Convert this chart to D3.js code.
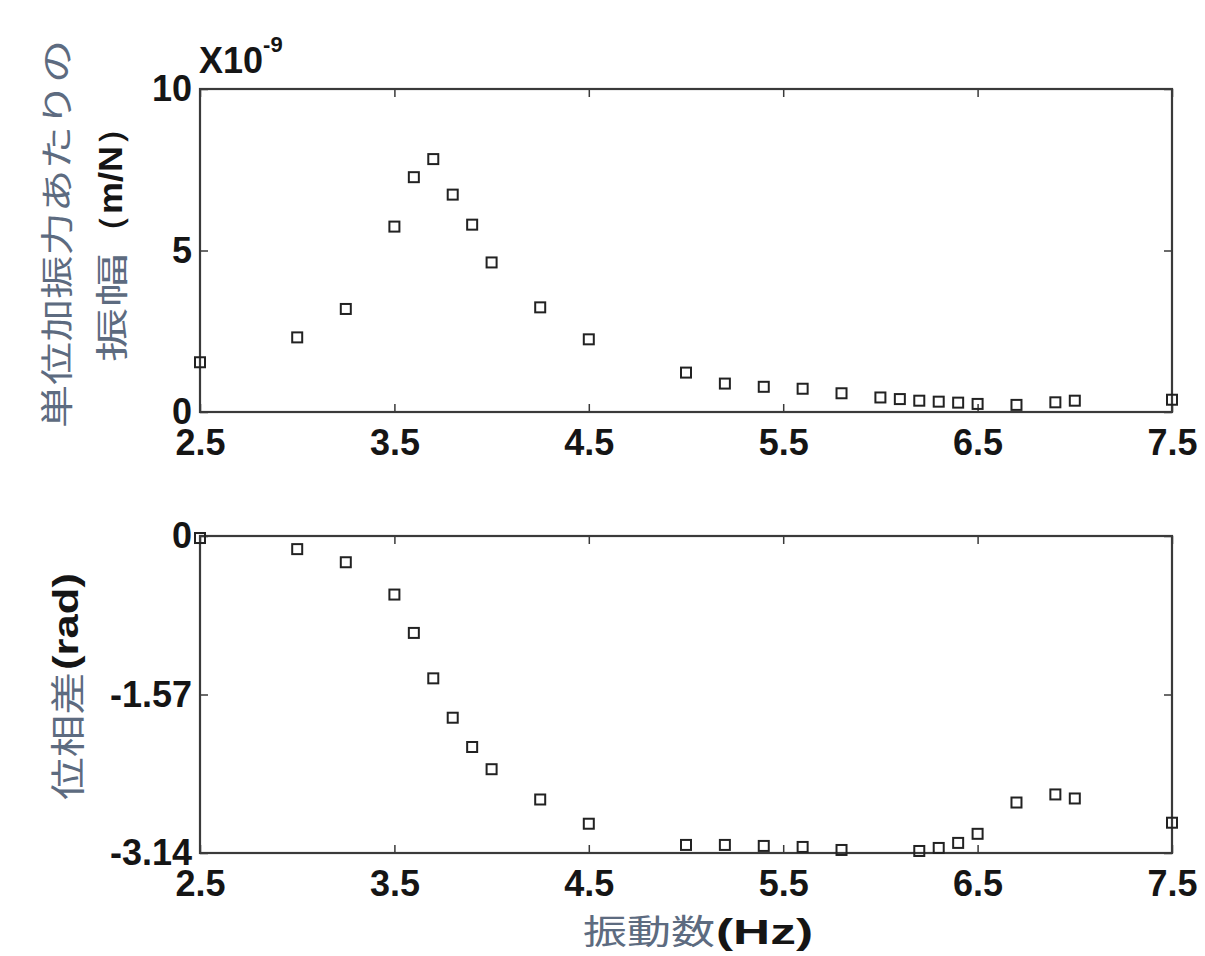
<!DOCTYPE html>
<html>
<head>
<meta charset="utf-8">
<script src="https://cdn.jsdelivr.net/npm/d3@7"></script>
<style>
  html, body { margin: 0; padding: 0; background: #fff; }
  svg { display: block; }
  .tick text { font-family: "Liberation Sans", Arial, sans-serif; }
</style>
</head>
<body>
<svg id="chart" width="1205" height="956"></svg>
<script>
// Frequency (Hz) of each measurement, amplitude panel
const ampFreq = [2.5, 3.0, 3.25, 3.5, 3.6, 3.7, 3.8, 3.9, 4.0, 4.25, 4.5,
                 5.0, 5.2, 5.4, 5.6, 5.8, 6.0, 6.1, 6.2, 6.3, 6.4, 6.5, 6.7, 6.9, 7.0, 7.5];
// Amplitude per unit exciting force (x 1e-9 m/N)
const ampValue = [1.54, 2.31, 3.19, 5.74, 7.27, 7.83, 6.73, 5.80, 4.63, 3.24, 2.25,
                  1.22, 0.88, 0.78, 0.72, 0.58, 0.45, 0.40, 0.35, 0.32, 0.29, 0.25, 0.22, 0.30, 0.35, 0.38];

// Frequency (Hz) of each measurement, phase panel
const phaseFreq = [2.5, 3.0, 3.25, 3.5, 3.6, 3.7, 3.8, 3.9, 4.0, 4.25, 4.5,
                   5.0, 5.2, 5.4, 5.6, 5.8, 6.2, 6.3, 6.4, 6.5, 6.7, 6.9, 7.0, 7.5];
// Phase difference (rad)
const phaseValue = [-0.02, -0.13, -0.26, -0.58, -0.96, -1.41, -1.80, -2.09, -2.31, -2.61, -2.85,
                    -3.06, -3.06, -3.07, -3.08, -3.11, -3.12, -3.09, -3.04, -2.95, -2.64, -2.56, -2.60, -2.84];

// Axis ticks and their labels
const xTicks = [2.5, 3.5, 4.5, 5.5, 6.5, 7.5];
const ampTicks = [0, 5, 10];
const phaseTicks = [0, -1.57, -3.14];
const phaseTickLabels = ["0", "-1.57", "-3.14"];

const svg = d3.select("#chart");
const numFont = '"Liberation Sans", Arial, sans-serif';
const jpFont = '"Noto Sans CJK JP", sans-serif';
const jpColor = "#5d6b80";
const ink = "#151515";
const frameColor = "#3a3a3a";

const left = 200, right = 1172;
const panels = [
  { top: 89, bottom: 412, domain: [0, 10], xs: ampFreq, ys: ampValue,
    ticks: ampTicks, fmt: d => String(d) },
  { top: 536, bottom: 853, domain: [-3.14, 0], xs: phaseFreq, ys: phaseValue,
    ticks: phaseTicks, fmt: d => phaseTickLabels[phaseTicks.indexOf(d)] }
];

panels.forEach(p => {
  const x = d3.scaleLinear().domain([2.5, 7.5]).range([left, right]);
  const y = d3.scaleLinear().domain(p.domain).range([p.bottom, p.top]);
  const g = svg.append("g");

  // bottom axis with labels, ticks pointing inward
  const xb = g.append("g").attr("transform", `translate(0,${p.bottom})`)
    .call(d3.axisBottom(x).tickValues(xTicks).tickSize(-8).tickPadding(17)
      .tickFormat(d => String(d)));
  // top axis ticks only
  const xt = g.append("g").attr("transform", `translate(0,${p.top})`)
    .call(d3.axisTop(x).tickValues(xTicks).tickSize(-8).tickFormat(""));
  // left axis with labels
  const yl = g.append("g").attr("transform", `translate(${left},0)`)
    .call(d3.axisLeft(y).tickValues(p.ticks).tickSize(-8).tickPadding(8).tickFormat(p.fmt));
  // right axis ticks only
  const yr = g.append("g").attr("transform", `translate(${right},0)`)
    .call(d3.axisRight(y).tickValues(p.ticks).tickSize(-8).tickFormat(""));

  [xb, xt, yl, yr].forEach(a => {
    a.select(".domain").remove();
    a.selectAll(".tick line").attr("stroke", frameColor).attr("stroke-width", 1.5);
    a.selectAll(".tick text").attr("fill", ink).style("font-size", "36px")
      .style("font-weight", "bold").style("font-family", numFont);
  });

  // frame
  g.append("rect")
    .attr("x", left).attr("y", p.top)
    .attr("width", right - left).attr("height", p.bottom - p.top)
    .attr("fill", "none").attr("stroke", frameColor).attr("stroke-width", 2.2);

  // square markers
  const s = 10;
  g.append("g").selectAll("rect")
    .data(p.xs.map((d, i) => [d, p.ys[i]]))
    .join("rect")
    .attr("x", d => x(d[0]) - s / 2)
    .attr("y", d => y(d[1]) - s / 2)
    .attr("width", s).attr("height", s)
    .attr("fill", "none").attr("stroke", "#222").attr("stroke-width", 2);
});

// exponent of the amplitude axis
const expo = svg.append("text").attr("x", 199).attr("y", 73)
  .attr("font-family", numFont).attr("font-size", 36).attr("font-weight", "bold").attr("fill", ink);
expo.append("tspan").text("X10");
expo.append("tspan").attr("font-size", 22).attr("dy", -21).text("-9");

// rotated label piece: spans screen y from a (top) to b (bottom), centred at cx
function vText(cx, a, b, str, opts) {
  svg.append("text")
    .attr("transform", `translate(${cx},0) rotate(-90)`)
    .attr("x", -b).attr("y", 0)
    .attr("dominant-baseline", "central")
    .attr("textLength", b - a).attr("lengthAdjust", "spacingAndGlyphs")
    .attr("font-family", opts.font).attr("font-size", opts.size)
    .attr("font-weight", opts.weight || "normal")
    .attr("fill", opts.color)
    .text(str);
}

// amplitude axis title (two lines)
vText(55, 40, 428, "単位加振力あたりの", { font: jpFont, size: 33, color: jpColor });
vText(110, 253, 362, "振幅", { font: jpFont, size: 33, color: jpColor });
vText(110, 110, 250, "（m/N）", { font: numFont, size: 33, weight: "bold", color: ink });

// phase axis title
vText(65, 672, 800, "位相差", { font: jpFont, size: 35, color: jpColor });
vText(65, 573, 670, "(rad)", { font: numFont, size: 35, weight: "bold", color: ink });

// frequency axis title
svg.append("text").attr("x", 583).attr("y", 944)
  .attr("textLength", 132).attr("lengthAdjust", "spacingAndGlyphs")
  .attr("font-family", jpFont).attr("font-size", 34).attr("fill", jpColor)
  .text("振動数");
svg.append("text").attr("x", 716).attr("y", 944)
  .attr("textLength", 97).attr("lengthAdjust", "spacingAndGlyphs")
  .attr("font-family", numFont).attr("font-size", 35).attr("font-weight", "bold").attr("fill", ink)
  .text("(Hz)");
</script>
</body>
</html>
